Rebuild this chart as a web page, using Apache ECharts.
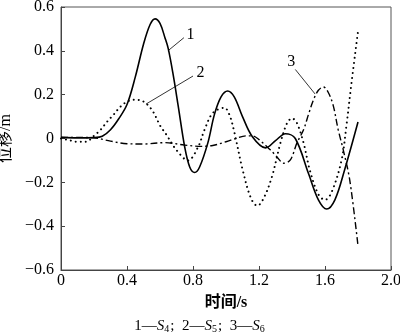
<!DOCTYPE html>
<html>
<head>
<meta charset="utf-8">
<script src="https://cdn.jsdelivr.net/npm/echarts@6/dist/echarts.min.js"></script>
<style>
  html, body { margin: 0; padding: 0; background: #fff; }
  #chart { width: 400px; height: 336px; }
</style>
</head>
<body>
<div id="chart"></div>
<script>
// Displacement histories (m) versus time (s) for sections S4, S5, S6
const timeS4 = [0, 0.1, 0.2, 0.25, 0.3, 0.35, 0.4, 0.45, 0.5, 0.54, 0.57, 0.6, 0.63, 0.65, 0.68, 0.71, 0.75, 0.78, 0.81, 0.84, 0.89, 0.93, 0.97, 1.01, 1.05, 1.1, 1.16, 1.24, 1.3, 1.36, 1.42, 1.5, 1.56, 1.61, 1.66, 1.72, 1.8];
const dispS4 = [0.005, 0.003, 0.004, 0.01, 0.04, 0.09, 0.155, 0.28, 0.43, 0.52, 0.546, 0.525, 0.46, 0.41, 0.29, 0.15, -0.04, -0.13, -0.155, -0.13, -0.02, 0.11, 0.19, 0.217, 0.19, 0.1, 0.008, -0.043, -0.01, 0.022, 0.0, -0.16, -0.28, -0.322, -0.28, -0.14, 0.075];

const timeS5 = [0, 0.05, 0.1, 0.15, 0.2, 0.24, 0.28, 0.32, 0.36, 0.4, 0.44, 0.48, 0.52, 0.56, 0.6, 0.64, 0.7, 0.77, 0.83, 0.87, 0.92, 0.99, 1.02, 1.05, 1.1, 1.15, 1.19, 1.23, 1.28, 1.33, 1.37, 1.4, 1.43, 1.47, 1.51, 1.56, 1.6, 1.64, 1.7, 1.73, 1.76, 1.8];
const dispS5 = [0.0, -0.008, -0.015, -0.015, 0.012, 0.04, 0.077, 0.11, 0.145, 0.168, 0.177, 0.175, 0.157, 0.12, 0.06, 0.016, -0.053, -0.1, -0.04, 0.04, 0.116, 0.14, 0.11, 0.03, -0.14, -0.27, -0.307, -0.27, -0.17, -0.02, 0.07, 0.092, 0.07, -0.02, -0.15, -0.255, -0.28, -0.245, -0.1, 0.06, 0.25, 0.49];

const timeS6 = [0, 0.1, 0.2, 0.3, 0.4, 0.5, 0.63, 0.75, 0.85, 0.92, 1.0, 1.06, 1.12, 1.16, 1.2, 1.27, 1.31, 1.35, 1.39, 1.43, 1.47, 1.5, 1.53, 1.56, 1.59, 1.62, 1.65, 1.68, 1.71, 1.75, 1.8];
const dispS6 = [0.005, 0.005, 0.003, -0.012, -0.024, -0.025, -0.019, -0.03, -0.036, -0.032, -0.015, 0.0, 0.012, 0.012, -0.005, -0.053, -0.085, -0.113, -0.098, -0.02, 0.04, 0.11, 0.176, 0.22, 0.235, 0.21, 0.15, 0.04, -0.05, -0.19, -0.49];

// Curve tags: [label, point on curve, end of leader, text position]
const tags = [
  ['1', [0.648, 0.40], [0.745, 0.46], [0.785, 0.475]],
  ['2', [0.515, 0.157], [0.80, 0.285], [0.845, 0.30]],
  ['3', [1.54, 0.203], [1.42, 0.315], [1.395, 0.35]]
];

const pairs = (t, v) => t.map((x, i) => [x, v[i]]);
const serif = 'Liberation Serif, Times New Roman, serif';
const cjk = 'Liberation Serif, Noto Sans CJK SC, serif';

function tagMarks(tag) {
  const [txt, from, to, at] = tag;
  return {
    markLine: {
      silent: true,
      symbol: ['none', 'none'],
      lineStyle: { color: '#000', width: 0.8, type: 'solid' },
      label: { show: false },
      data: [[{ coord: from }, { coord: to }]]
    },
    markPoint: {
      silent: true,
      symbol: 'circle',
      symbolSize: 0,
      label: { show: true, formatter: txt, color: '#000', fontFamily: serif, fontSize: 16, position: 'inside' },
      data: [{ coord: at }]
    }
  };
}

const chart = echarts.init(document.getElementById('chart'), null, { renderer: 'canvas' });

const fmtX = v => (v === 0 ? '0' : v.toFixed(1));
const fmtY = v => {
  if (Math.abs(v) < 1e-9) return '0';
  const s = Math.abs(v).toFixed(1);
  return v < 0 ? '\u2212' + s : s;
};

chart.setOption({
  animation: false,
  backgroundColor: '#fff',
  grid: {
    left: 61, right: 9, top: 7, bottom: 66,
    outerBoundsMode: 'none', containLabel: false,
    show: true, borderColor: '#555', borderWidth: 1
  },
  xAxis: {
    type: 'value', min: 0, max: 2.0, interval: 0.4,
    name: '时间/s', nameLocation: 'middle', nameGap: 25,
    nameTextStyle: { fontFamily: cjk, fontSize: 16, fontWeight: 'bold', color: '#000' },
    axisLine: { onZero: false, lineStyle: { color: '#444', width: 1 } },
    axisTick: { inside: true, length: 4, lineStyle: { color: '#444' } },
    axisLabel: { formatter: fmtX, fontFamily: serif, fontSize: 16, color: '#000', margin: 3 },
    splitLine: { show: false }
  },
  yAxis: {
    type: 'value', min: -0.6, max: 0.6, interval: 0.2,
    name: '位移/m', nameLocation: 'middle', nameGap: 43,
    nameTextStyle: { fontFamily: cjk, fontSize: 16, color: '#000' },
    axisLine: { show: true, onZero: false, lineStyle: { color: '#444', width: 1 } },
    axisTick: { show: true, inside: true, length: 4, lineStyle: { color: '#444' } },
    axisLabel: { formatter: fmtY, fontFamily: serif, fontSize: 16, color: '#000', margin: 7 },
    splitLine: { show: false }
  },
  title: {
    left: 'center', top: 314,
    text: '1—{i|S}{s|4};  2—{i|S}{s|5};  3—{i|S}{s|6}',
    textStyle: {
      fontFamily: serif, fontSize: 15, fontWeight: 'normal', color: '#000',
      rich: {
        i: { fontFamily: serif, fontSize: 15, fontStyle: 'italic', color: '#000' },
        s: { fontFamily: serif, fontSize: 10, color: '#000', verticalAlign: 'bottom', lineHeight: 12, padding: [0, 1, 0, 0] }
      }
    }
  },
  series: [
    Object.assign({
      name: 'S4', type: 'line', smooth: 0.35, showSymbol: false,
      data: pairs(timeS4, dispS4),
      lineStyle: { color: '#000', width: 1.6, type: 'solid' }
    }, tagMarks(tags[0])),
    Object.assign({
      name: 'S5', type: 'line', smooth: 0.35, showSymbol: false,
      data: pairs(timeS5, dispS5),
      lineStyle: { color: '#000', width: 2, type: [0.01, 5], cap: 'round' }
    }, tagMarks(tags[1])),
    Object.assign({
      name: 'S6', type: 'line', smooth: 0.35, showSymbol: false,
      data: pairs(timeS6, dispS6),
      lineStyle: { color: '#000', width: 1.4, type: [7, 3, 2, 3] }
    }, tagMarks(tags[2]))
  ]
});
</script>
</body>
</html>
